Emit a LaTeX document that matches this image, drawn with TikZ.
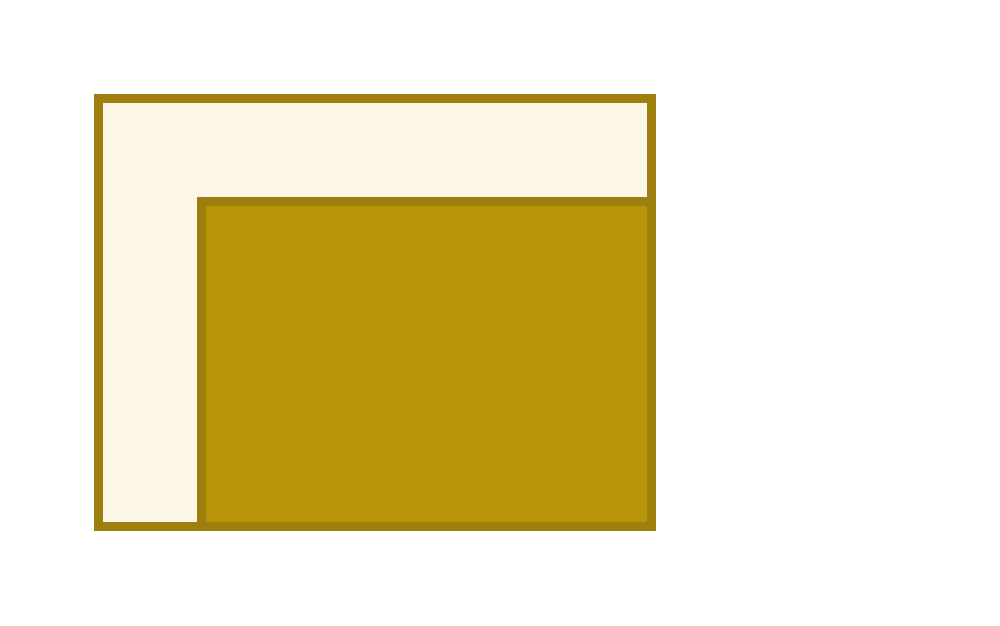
\documentclass[tikz,border=0pt]{standalone}
\definecolor{edgegold}{RGB}{158,126,12}
\definecolor{cream}{RGB}{253,247,231}
\definecolor{gold}{RGB}{183,148,10}
\tikzset{
  outerbox/.style={draw=edgegold, fill=cream, line width=9pt},
  innerbox/.style={draw=edgegold, fill=gold, line width=9pt}
}
\begin{document}
\begin{tikzpicture}[x=1pt,y=-1pt]
\useasboundingbox (0,0) rectangle (1000,625);
\fill[white] (0,0) rectangle (1000,625);
\draw[outerbox] (98.5,98.5) rectangle (651.5,526.5);
\draw[innerbox] (201.5,201.5) rectangle (651.5,526.5);
\end{tikzpicture}
\end{document}
